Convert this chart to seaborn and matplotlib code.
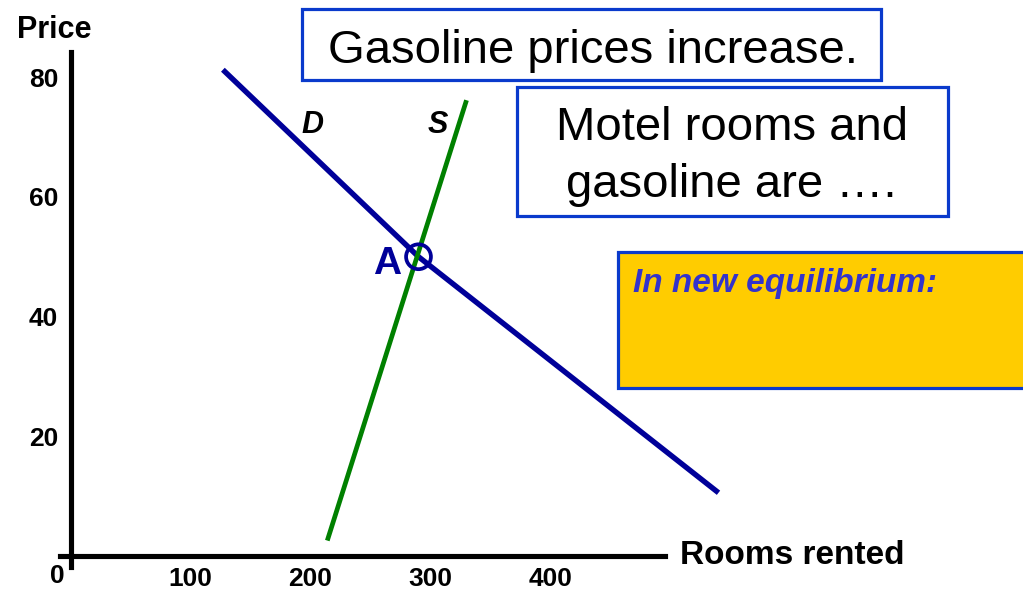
import matplotlib
matplotlib.use("Agg")
import matplotlib.pyplot as plt
from matplotlib.patches import Rectangle
import pandas as pd
import seaborn as sns

# Demand and supply for motel rooms
demand_qty = [127, 290, 540]
demand_price = [81.3, 50.0, 10.5]
supply_qty = [214, 330]
supply_price = [2.5, 76.2]
equilibrium = (290, 50)

x_ticks = [100, 200, 300, 400]
y_ticks = [20, 40, 60, 80]

sns.set_theme(style="white")
plt.rcParams["font.family"] = ["Liberation Sans", "DejaVu Sans"]
plt.rcParams["text.color"] = "black"
plt.rcParams["xtick.color"] = "black"
plt.rcParams["ytick.color"] = "black"
plt.rcParams["axes.labelcolor"] = "black"

W, H = 1023, 594
fig = plt.figure(figsize=(W / 100, H / 100), dpi=100)
ax = fig.add_axes([0, 0, 1, 1])

# pixel <-> data scale: origin at (70.5, 555.5), 1.2 px per room, 5.975 px per price unit
x0_px, y0_px, sx, sy = 70.5, 555.5, 1.2, 5.975
ax.set_xlim((0 - x0_px) / sx, (W - x0_px) / sx)
ax.set_ylim((y0_px - H) / sy, y0_px / sy)

navy = "#000099"
green = "#008000"
box_blue = "#0a3acc"

demand = pd.DataFrame({"qty": demand_qty, "price": demand_price})
supply = pd.DataFrame({"qty": supply_qty, "price": supply_price})

sns.lineplot(data=demand, x="qty", y="price", color=navy, linewidth=3.9,
             sort=False, ax=ax, solid_capstyle="butt")
sns.lineplot(data=supply, x="qty", y="price", color=green, linewidth=3.4,
             sort=False, ax=ax, solid_capstyle="butt")
sns.scatterplot(x=[equilibrium[0]], y=[equilibrium[1]], s=320, marker="o",
                facecolors="none", edgecolors=navy, linewidths=2.7, ax=ax, zorder=5)

# Axes drawn as crossing lines
for side in ("top", "right"):
    ax.spines[side].set_visible(False)
ax.spines["left"].set_position(("data", 0))
ax.spines["bottom"].set_position(("data", 0))
ax.spines["left"].set_bounds(-1.9, 84.3)
ax.spines["bottom"].set_bounds(-8.75, 495.4)
for side in ("left", "bottom"):
    ax.spines[side].set_linewidth(3.7)
    ax.spines[side].set_color("black")
    ax.spines[side].set_zorder(6)

ax.set_xticks(x_ticks)
ax.set_xticklabels([str(v) for v in x_ticks], fontsize=19, fontweight="bold")
ax.set_yticks(y_ticks)
ax.set_yticklabels([str(v) for v in y_ticks], fontsize=19, fontweight="bold")
ax.tick_params(axis="x", length=0, pad=8, colors="black")
ax.tick_params(axis="y", length=0, pad=9, colors="black")
ax.grid(False)
ax.set_xlabel("")
ax.set_ylabel("")

ax.text(-11.25, -3.4, "0", fontsize=19, fontweight="bold", ha="center", va="center")
ax.text(-13.75, 88.0, "Price", fontsize=22, fontweight="bold", ha="center", va="center")
ax.text(508, 0.0, "Rooms rented", fontsize=24, fontweight="bold", ha="left", va="center")

ax.text(202, 72, "D", fontsize=22, fontweight="bold", fontstyle="italic", ha="center", va="center")
ax.text(306, 72, "S", fontsize=22, fontweight="bold", fontstyle="italic", ha="center", va="center")
ax.text(263.5, 48.8, "A", fontsize=28, fontweight="bold", color=navy, ha="center", va="center")


def px_box(x1, y1, x2, y2, face):
    ax.add_patch(Rectangle((x1 / W, 1 - y2 / H), (x2 - x1) / W, (y2 - y1) / H,
                           transform=ax.transAxes, facecolor=face, edgecolor=box_blue,
                           linewidth=2.3, zorder=7, clip_on=False))


def px_text(x, y, s, **kw):
    ax.text(x / W, 1 - y / H, s, transform=ax.transAxes, zorder=8, **kw)


px_box(302, 9, 881, 80, "white")
px_text(593, 63, "Gasoline prices increase.", fontsize=34, ha="center", va="baseline")

px_box(517, 87, 948, 216, "white")
px_text(732, 140, "Motel rooms and", fontsize=34, ha="center", va="baseline")
px_text(731, 197, "gasoline are \u2026.", fontsize=34, ha="center", va="baseline")

px_box(618, 252, 1040, 388, "#FFCC00")
px_text(633, 292, "In new equilibrium:", fontsize=24, fontweight="bold",
        fontstyle="italic", color="#3333CC", ha="left", va="baseline")

fig.savefig("out.png", dpi=100)
